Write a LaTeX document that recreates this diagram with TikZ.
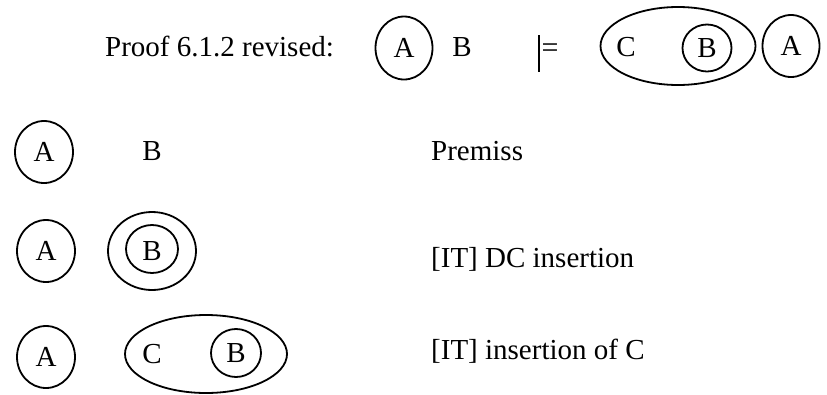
\documentclass[tikz,border=0pt]{standalone}
\usepackage{fontspec}
\setmainfont{Liberation Serif}
\usetikzlibrary{shapes.geometric}
\tikzset{
  lbl/.style={font=\fontsize{29}{34}\selectfont, inner sep=0pt},
  cut/.style={draw, ellipse, line width=1.8pt, inner sep=0pt},
}
\begin{document}
\begin{tikzpicture}[x=1pt, y=-1pt]
\useasboundingbox (0,0) rectangle (827,394);

% ---- statement line ----
\node[lbl, anchor=base west] (title) at (105,56) {Proof 6.1.2 revised:};
\node[cut, minimum width=57pt, minimum height=63pt] (tA) at (404,48) {};
\node[lbl] (tAl) at (tA.center) {A};
\node[lbl, anchor=base] (tB) at (462,56) {B};
% entailment sign: a long bar and a short equals sign
\coordinate (barTop) at (539,35);
\coordinate (barBot) at (539,72);
\draw[line width=1.5pt] (barTop) -- (barBot);
\node[anchor=base west, inner sep=0pt, font=\fontsize{30}{30}\selectfont] (eq) at (541.5,57) {=};
\node[cut, minimum width=155pt, minimum height=78pt] (tE) at (678,46) {};
\node[lbl, anchor=base] (tC) at (626,56) {C};
\node[cut, minimum width=49pt, minimum height=47pt] (tBc) at (707,48) {};
\node[lbl] (tBl) at (tBc.center) {B};
\node[cut, minimum width=57pt, minimum height=62pt] (tA2) at (791,46) {};
\node[lbl] (tA2l) at (tA2.center) {A};

% ---- step 1: premiss ----
\node[cut, minimum width=58pt, minimum height=62pt] (aA) at (44,152) {};
\node[lbl] (aAl) at (aA.center) {A};
\node[lbl, anchor=base] (aB) at (152,160) {B};
\node[lbl, anchor=base west] (aT) at (431,160) {Premiss};

% ---- step 2: double cut ----
\node[cut, minimum width=58pt, minimum height=62pt] (bA) at (46,251) {};
\node[lbl] (bAl) at (bA.center) {A};
\node[cut, minimum width=88pt, minimum height=78pt] (bO) at (152,251) {};
\node[cut, minimum width=52pt, minimum height=48pt] (bI) at (152,249) {};
\node[lbl] (bBl) at ([yshift=-2pt]bI.center) {B};
\node[lbl, anchor=base west] (bT) at (431,267) {[IT] DC insertion};

% ---- step 3: insertion of C ----
\node[cut, minimum width=58pt, minimum height=62pt] (cA) at (46,357) {};
\node[lbl] (cAl) at (cA.center) {A};
\node[cut, minimum width=162pt, minimum height=78pt] (cO) at (206,354) {};
\node[lbl, anchor=base] (cC) at (152,363) {C};
\node[cut, minimum width=50pt, minimum height=48pt] (cI) at (236,353) {};
\node[lbl] (cBl) at (cI.center) {B};
\node[lbl, anchor=base west] (cT) at (431,359) {[IT] insertion of C};
\end{tikzpicture}
\end{document}
